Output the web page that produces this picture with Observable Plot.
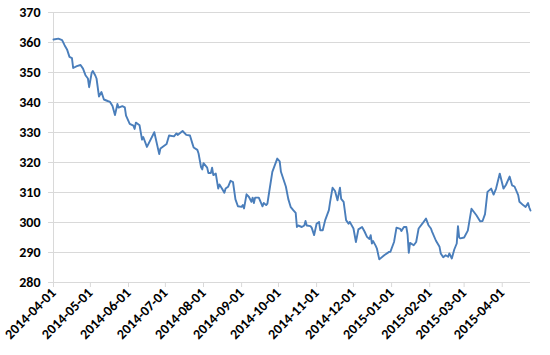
<!DOCTYPE html>
<html>
<head>
<meta charset="utf-8">
<script src="https://cdn.jsdelivr.net/npm/d3@7"></script>
<script src="https://cdn.jsdelivr.net/npm/@observablehq/plot@0.6"></script>
<style>
  html, body { margin: 0; padding: 0; background: #fff; }
  #chart { width: 550px; height: 355px; }
</style>
</head>
<body>
<div id="chart"></div>
<script>
// Dates and values
const dates = [
  "2014-04-01","2014-04-05","2014-04-08","2014-04-10","2014-04-12","2014-04-14","2014-04-16","2014-04-17",
  "2014-04-20","2014-04-23","2014-04-25","2014-04-27","2014-04-29","2014-04-30","2014-05-02","2014-05-03",
  "2014-05-05","2014-05-06","2014-05-08","2014-05-10","2014-05-12","2014-05-15","2014-05-17","2014-05-19",
  "2014-05-21","2014-05-23","2014-05-24","2014-05-27","2014-05-29","2014-05-30","2014-06-02","2014-06-05",
  "2014-06-06","2014-06-07","2014-06-10","2014-06-12","2014-06-13","2014-06-16","2014-06-22","2014-06-26",
  "2014-06-27","2014-07-02","2014-07-04","2014-07-08","2014-07-10","2014-07-11","2014-07-15","2014-07-18",
  "2014-07-21","2014-07-23","2014-07-24","2014-07-27","2014-07-28","2014-07-30","2014-07-31","2014-08-01",
  "2014-08-04","2014-08-05","2014-08-07","2014-08-08","2014-08-09","2014-08-11","2014-08-13","2014-08-14",
  "2014-08-16","2014-08-18","2014-08-19","2014-08-21","2014-08-23","2014-08-25","2014-08-27","2014-08-29",
  "2014-09-01","2014-09-02","2014-09-03","2014-09-05","2014-09-07","2014-09-09","2014-09-10","2014-09-11",
  "2014-09-12","2014-09-15","2014-09-18","2014-09-19","2014-09-21","2014-09-22","2014-09-23","2014-09-26",
  "2014-09-30","2014-10-02","2014-10-03","2014-10-07","2014-10-09","2014-10-11","2014-10-13","2014-10-15",
  "2014-10-16","2014-10-17","2014-10-20","2014-10-22","2014-10-23","2014-10-24","2014-10-27","2014-10-28",
  "2014-10-30","2014-11-01","2014-11-03","2014-11-04","2014-11-06","2014-11-08","2014-11-11","2014-11-12",
  "2014-11-14","2014-11-16","2014-11-18","2014-11-20","2014-11-21","2014-11-23","2014-11-25","2014-11-27",
  "2014-11-28","2014-12-01","2014-12-03","2014-12-05","2014-12-08","2014-12-10","2014-12-12","2014-12-14",
  "2014-12-15","2014-12-16","2014-12-17","2014-12-19","2014-12-20","2014-12-22","2014-12-26","2014-12-30",
  "2014-12-31","2015-01-03","2015-01-05","2015-01-08","2015-01-09","2015-01-11","2015-01-13","2015-01-14",
  "2015-01-15","2015-01-16","2015-01-19","2015-01-21","2015-01-23","2015-01-26","2015-01-29","2015-01-31",
  "2015-02-02","2015-02-03","2015-02-06","2015-02-09","2015-02-10","2015-02-12","2015-02-14","2015-02-16",
  "2015-02-17","2015-02-19","2015-02-21","2015-02-23","2015-02-24","2015-02-25","2015-02-26","2015-03-01",
  "2015-03-04","2015-03-07","2015-03-09","2015-03-11","2015-03-14","2015-03-16","2015-03-18","2015-03-20",
  "2015-03-23","2015-03-25","2015-03-27","2015-03-30","2015-04-02","2015-04-04","2015-04-07","2015-04-09",
  "2015-04-11","2015-04-14","2015-04-15","2015-04-18","2015-04-20","2015-04-22","2015-04-23","2015-04-24"
];
const values = [
  361.0,361.3,360.8,359.1,357.7,355.2,354.8,351.5,
  352.1,352.5,351.3,349.1,348.0,345.1,349.8,350.5,
  349.0,348.0,342.0,343.5,341.0,340.5,340.2,338.8,
  335.8,339.5,338.3,338.8,338.4,335.6,332.9,332.3,
  331.2,333.3,332.4,327.6,328.5,325.2,330.1,322.8,
  324.7,326.2,329.0,328.7,329.7,329.2,330.5,329.2,
  329.0,326.3,325.0,324.2,323.0,318.5,317.7,319.8,
  318.3,316.5,316.5,318.3,315.8,316.3,311.3,312.7,
  311.3,309.9,311.3,311.9,313.9,313.5,307.7,305.4,
  305.2,305.8,304.7,309.4,308.5,306.9,308.3,306.5,
  308.3,308.3,305.4,306.5,305.8,306.3,309.0,316.9,
  321.3,320.4,316.9,312.0,307.8,305.1,304.1,303.2,
  298.5,299.0,298.5,299.0,300.5,299.0,298.8,298.3,
  295.8,299.6,300.2,297.4,297.4,300.8,304.1,306.9,
  311.6,310.5,307.4,311.6,307.9,306.9,300.8,299.6,
  300.2,298.0,293.5,297.7,298.5,297.0,295.2,294.5,
  295.8,293.0,293.8,292.3,291.4,287.7,289.1,290.2,
  290.2,293.5,298.3,297.9,297.2,298.5,298.5,296.0,
  289.9,293.2,292.4,293.5,298.0,299.6,301.3,299.1,
  298.0,296.9,294.0,291.9,289.7,288.4,289.1,288.6,
  289.7,288.0,291.0,293.0,298.8,295.0,294.7,295.0,
  297.3,304.6,303.5,302.4,300.4,300.5,302.8,310.2,
  311.3,309.3,311.3,316.3,311.3,312.5,315.3,312.4,
  312.0,309.1,306.9,305.8,305.2,306.5,305.0,304.0
];
const yTicks = [280, 290, 300, 310, 320, 330, 340, 350, 360, 370];
const xTickLabels = [
  "2014-04-01","2014-05-01","2014-06-01","2014-07-01","2014-08-01","2014-09-01","2014-10-01",
  "2014-11-01","2014-12-01","2015-01-01","2015-02-01","2015-03-01","2015-04-01"
];

const parse = d3.utcParse("%Y-%m-%d");
const data = dates.map((d, i) => ({date: parse(d), value: values[i]}));
const xTicks = xTickLabels.map(parse);
const grid = "#d9d9d9";
const font = "Calibri, Carlito, Lato, sans-serif";

const chart = Plot.plot({
  width: 550,
  height: 355,
  marginLeft: 53,
  marginRight: 20,
  marginTop: 12,
  marginBottom: 73,
  style: {fontFamily: font, fontWeight: "bold", color: "#000", background: "#fff"},
  x: {type: "utc", domain: [parse(dates[0]), parse(dates[dates.length - 1])]},
  y: {domain: [280, 370]},
  marks: [
    Plot.gridY(yTicks, {stroke: grid, strokeOpacity: 1}),
    Plot.ruleX([parse(dates[0])], {stroke: grid, strokeOpacity: 1}),
    Plot.axisY({ticks: yTicks, tickSize: 5, tickPadding: 8, stroke: grid, strokeOpacity: 1, label: null, fill: "#000", fontSize: 14, fontWeight: "bold"}),
    Plot.axisX({ticks: xTicks, tickFormat: d3.utcFormat("%Y-%m-%d"), tickSize: 5, tickPadding: 3, tickRotate: -45, stroke: grid, strokeOpacity: 1, label: null, fill: "#000", fontSize: 14, fontWeight: "bold"}),
    Plot.lineY(data, {x: "date", y: "value", stroke: "#4A7EBB", strokeWidth: 1.9})
  ]
});
document.getElementById("chart").appendChild(chart);
</script>
</body>
</html>
